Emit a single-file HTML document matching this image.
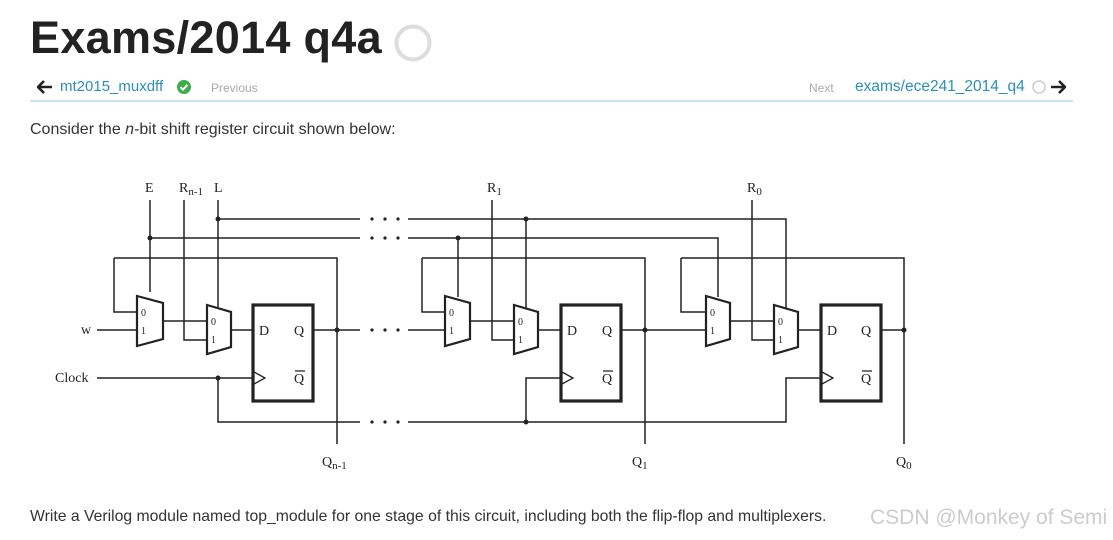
<!DOCTYPE html>
<html><head><meta charset="utf-8"><style>
body{margin:0;width:1113px;height:540px;background:#fff;position:relative;overflow:hidden;font-family:"Liberation Sans",sans-serif;}
.a{position:absolute;white-space:nowrap;}
</style></head><body>
<div class="a" style="left:30px;top:12px;font-size:45px;font-weight:bold;color:#222;letter-spacing:0.3px;">Exams/2014 q4a</div>
<svg class="a" style="left:393px;top:23px" width="42" height="42"><circle cx="20" cy="20" r="16.5" fill="none" stroke="#ddd" stroke-width="4"/></svg>
<svg class="a" style="left:37px;top:80px" width="16" height="14"><path d="M7 1 L1 7 L7 13 M1 7 H15" stroke="#222" stroke-width="2.6" fill="none"/></svg>
<div class="a" style="left:60px;top:78px;font-size:15px;color:#2a8fbd;">mt2015_muxdff</div>
<svg class="a" style="left:177px;top:80px" width="14" height="14"><circle cx="7" cy="7" r="7" fill="#3cad4b"/><path d="M3.5 7.2 L6 9.6 L10.5 4.8" stroke="#fff" stroke-width="2" fill="none"/></svg>
<div class="a" style="left:211px;top:81px;font-size:12px;color:#aaa;">Previous</div>
<div class="a" style="left:809px;top:81px;font-size:12px;color:#aaa;">Next</div>
<div class="a" style="left:855px;top:78px;font-size:15.5px;color:#2a8fbd;">exams/ece241_2014_q4</div>
<svg class="a" style="left:1032px;top:80px" width="14" height="14"><circle cx="7" cy="7" r="6" fill="none" stroke="#ccc" stroke-width="1.5"/></svg>
<svg class="a" style="left:1050px;top:80px" width="16" height="14"><path d="M9 1 L15 7 L9 13 M15 7 H1" stroke="#222" stroke-width="2.6" fill="none"/></svg>
<div class="a" style="left:30px;top:100px;width:1043px;height:2px;background:#c5e6ee;"></div>
<div class="a" style="left:30px;top:121px;font-size:16px;color:#333;">Consider the <i>n</i>-bit shift register circuit shown below:</div>
<div class="a" style="left:30px;top:508px;font-size:15.75px;color:#333;">Write a Verilog module named top_module for one stage of this circuit, including both the flip-flop and multiplexers.</div>
<div class="a" style="left:870px;top:506px;font-size:21px;color:#ccc;">CSDN @Monkey of Semi</div>
<svg class="a" style="left:0;top:0" width="1113" height="540" font-family="Liberation Serif,serif" fill="none" stroke="#222" stroke-width="1.5">
<g>
<path d="M218 219 H360 M408 219 H786 V309"/>
<path d="M150 238 H360 M408 238 H718 V297"/>
<path d="M218 378 V422 H360 M408 422 H786 V378 H820"/>
<path d="M313 330 H360 M408 330 H445"/>
<path d="M150 200 V292"/>
<path d="M184 200 V340 H207"/>
<path d="M218 200 V308"/>
<path d="M114 258 H337 V444 M114 258 V312 H137"/>
<path d="M97 330 H137 M163 321 H207 M231 330 H253 M97 378 H253"/>
<path d="M458 238 V297 M526 219 V308"/>
<path d="M492 200 V340 H514"/>
<path d="M422 258 H645 V444 M422 258 V312 H445"/>
<path d="M470 321 H514 M538 330 H560 M526 422 V378 H560 M621 330 H706"/>
<path d="M752 200 V340 H774"/>
<path d="M681 258 H904 V444 M681 258 V312 H706"/>
<path d="M730 321 H774 M798 330 H820 M881 330 H904"/>
</g>
<g stroke-width="2.2">
<path d="M137 296 L163 303 V339 L137 346 Z"/>
<path d="M207 305 L231 312 V347 L207 354 Z"/>
<path d="M445 296 L470 303 V339 L445 346 Z"/>
<path d="M514 305 L538 312 V347 L514 354 Z"/>
<path d="M706 296 L730 303 V339 L706 346 Z"/>
<path d="M774 305 L798 312 V347 L774 354 Z"/>
</g>
<g stroke-width="3.2">
<rect x="253" y="305" width="60" height="96"/>
<rect x="561" y="305" width="60" height="96"/>
<rect x="821" y="305" width="60" height="96"/>
</g>
<g stroke-width="1.3">
<path d="M254 372 L265 378 L254 384"/><path d="M562 372 L573 378 L562 384"/><path d="M822 372 L833 378 L822 384"/>
<path d="M295 371 H305 M603 371 H613 M862 371 H872"/>
</g>
<g fill="#222" stroke="none">
<circle cx="218" cy="219" r="2.5"/><circle cx="150" cy="238" r="2.5"/><circle cx="218" cy="378" r="2.5"/><circle cx="337" cy="330" r="2.5"/>
<circle cx="526" cy="219" r="2.5"/><circle cx="458" cy="238" r="2.5"/><circle cx="526" cy="422" r="2.5"/><circle cx="645" cy="330" r="2.5"/><circle cx="904" cy="330" r="2.5"/>
<g>
<circle cx="372" cy="219" r="1.6"/><circle cx="385" cy="219" r="1.6"/><circle cx="398" cy="219" r="1.6"/>
<circle cx="372" cy="238" r="1.6"/><circle cx="385" cy="238" r="1.6"/><circle cx="398" cy="238" r="1.6"/>
<circle cx="372" cy="330" r="1.6"/><circle cx="385" cy="330" r="1.6"/><circle cx="398" cy="330" r="1.6"/>
<circle cx="372" cy="422" r="1.6"/><circle cx="385" cy="422" r="1.6"/><circle cx="398" cy="422" r="1.6"/>
</g>
<g font-size="14">
<text x="145" y="192">E</text>
<text x="179" y="192">R<tspan font-size="11" dy="3">n-1</tspan></text>
<text x="214" y="192">L</text>
<text x="487" y="192">R<tspan font-size="11" dy="3">1</tspan></text>
<text x="747" y="192">R<tspan font-size="11" dy="3">0</tspan></text>
<text x="81" y="334">w</text>
<text x="55" y="382">Clock</text>
<text x="322" y="466">Q<tspan font-size="11" dy="3">n-1</tspan></text>
<text x="632" y="466">Q<tspan font-size="11" dy="3">1</tspan></text>
<text x="896" y="466">Q<tspan font-size="11" dy="3">0</tspan></text>
<text x="259" y="335">D</text><text x="294" y="335">Q</text><text x="294" y="383">Q</text>
<text x="567" y="335">D</text><text x="602" y="335">Q</text><text x="602" y="383">Q</text>
<text x="827" y="335">D</text><text x="861" y="335">Q</text><text x="861" y="383">Q</text>
</g>
<g font-size="10">
<text x="141" y="316">0</text><text x="141" y="334">1</text>
<text x="211" y="325">0</text><text x="211" y="343">1</text>
<text x="449" y="316">0</text><text x="449" y="334">1</text>
<text x="518" y="325">0</text><text x="518" y="343">1</text>
<text x="710" y="316">0</text><text x="710" y="334">1</text>
<text x="778" y="325">0</text><text x="778" y="343">1</text>
</g>
</g>
</svg>
</body></html>
